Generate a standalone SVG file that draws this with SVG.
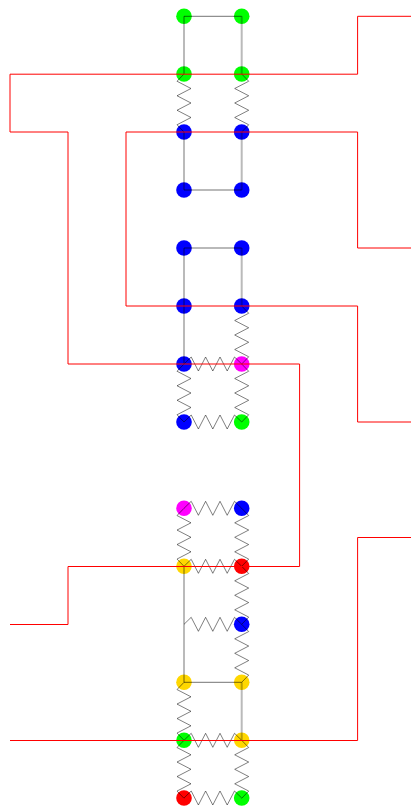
<svg xmlns="http://www.w3.org/2000/svg" xmlns:xlink="http://www.w3.org/1999/xlink" width="411" height="808" viewBox="0 0 411 808">
<style>
.g{fill:#0f0}.b{fill:#00f}.m{fill:#f0f}.r{fill:#f00}.y{fill:#ffd700}
.sp{fill:none;stroke:#000;stroke-opacity:.5;stroke-width:1}
.rv{fill:none;stroke:#000;stroke-opacity:.27;stroke-width:2}
.rh{fill:none;stroke:#000;stroke-opacity:.55;stroke-width:1}
.w{fill:none;stroke:#f00;stroke-width:1}
</style>
<defs>
<polyline id="vs" points="0,0 7,7.25 -7,14.5 7,21.75 -7,29 7,36.25 -7,43.5 7,50.75 0,58"/>
<polyline id="hs" points="0,0 7.2,-7 14.4,7 21.6,-7 28.8,7 36,-7 43.2,7 50.5,-7 57.7,0"/>
</defs>
<g id="nodes">
<g id="n1"><circle class="g" cx="184" cy="16.3" r="7.8"/></g>
<g id="n2"><circle class="g" cx="241.7" cy="16.3" r="7.8"/></g>
<g id="n3"><circle class="g" cx="184" cy="74" r="7.8"/></g>
<g id="n4"><circle class="g" cx="241.7" cy="74" r="7.8"/></g>
<g id="n5"><circle class="b" cx="184" cy="132" r="7.8"/></g>
<g id="n6"><circle class="b" cx="241.7" cy="132" r="7.8"/></g>
<g id="n7"><circle class="b" cx="184" cy="190" r="7.8"/></g>
<g id="n8"><circle class="b" cx="241.7" cy="190" r="7.8"/></g>
<g id="n9"><circle class="b" cx="184" cy="248" r="7.8"/></g>
<g id="n10"><circle class="b" cx="241.7" cy="248" r="7.8"/></g>
<g id="n11"><circle class="b" cx="184" cy="306" r="7.8"/></g>
<g id="n12"><circle class="b" cx="241.7" cy="306" r="7.8"/></g>
<g id="n13"><circle class="b" cx="184" cy="364" r="7.8"/></g>
<g id="n14"><circle class="m" cx="241.7" cy="364" r="7.8"/></g>
<g id="n15"><circle class="b" cx="184" cy="422" r="7.8"/></g>
<g id="n16"><circle class="g" cx="241.7" cy="422" r="7.8"/></g>
<g id="n17"><circle class="m" cx="184" cy="508.3" r="7.8"/></g>
<g id="n18"><circle class="b" cx="241.7" cy="508.3" r="7.8"/></g>
<g id="n19"><circle class="y" cx="184" cy="566.3" r="7.8"/></g>
<g id="n20"><circle class="r" cx="241.7" cy="566.3" r="7.8"/></g>
<g id="n21"><circle class="b" cx="241.7" cy="624.3" r="7.8"/></g>
<g id="n22"><circle class="y" cx="184" cy="682.3" r="7.8"/></g>
<g id="n23"><circle class="y" cx="241.7" cy="682.3" r="7.8"/></g>
<g id="n24"><circle class="g" cx="184" cy="740.3" r="7.8"/></g>
<g id="n25"><circle class="y" cx="241.7" cy="740.3" r="7.8"/></g>
<g id="n26"><circle class="r" cx="184" cy="798" r="7.8"/></g>
<g id="n27"><circle class="g" cx="241.7" cy="798" r="7.8"/></g>
</g>
<g id="connectors">
<path class="rv" d="M184 16.3V74M241.7 16.3V74M184 132V190M241.7 132V190M184 248V364M241.7 248V306M184 566.3V682.3M241.7 682.3V740.3"/>
<path class="rh" d="M184 16.3H241.7M184 190H241.7M184 248H241.7M184 682.3H241.7"/>
<g class="sp">
<use xlink:href="#vs" transform="translate(184,74) scale(-1,1)"/>
<use xlink:href="#vs" transform="translate(241.7,74)"/>
<use xlink:href="#vs" transform="translate(241.7,306)"/>
<use xlink:href="#vs" transform="translate(184,364) scale(-1,1)"/>
<use xlink:href="#vs" transform="translate(241.7,364)"/>
<use xlink:href="#vs" transform="translate(184,508.3) scale(-1,1)"/>
<use xlink:href="#vs" transform="translate(241.7,508.3)"/>
<use xlink:href="#vs" transform="translate(241.7,566.3)"/>
<use xlink:href="#vs" transform="translate(241.7,624.3)"/>
<use xlink:href="#vs" transform="translate(184,682.3) scale(-1,1)"/>
<use xlink:href="#vs" transform="translate(184,740.3) scale(-1,1)"/>
<use xlink:href="#vs" transform="translate(241.7,740.3)"/>
<use xlink:href="#hs" transform="translate(184,364)"/>
<use xlink:href="#hs" transform="translate(184,422)"/>
<use xlink:href="#hs" transform="translate(184,508.3)"/>
<use xlink:href="#hs" transform="translate(184,566.3)"/>
<use xlink:href="#hs" transform="translate(184,624.3)"/>
<use xlink:href="#hs" transform="translate(184,740.3)"/>
<use xlink:href="#hs" transform="translate(184,798)"/>
</g>
<polyline class="w" points="411,16.3 357.6,16.3 357.6,74.2 10,74.2 10,132 68,132 68,364 299.6,364 299.6,566.5 68,566.5 68,624.5 10,624.5"/>
<polyline class="w" points="411,248 357.6,248 357.6,132 126,132 126,306 357.6,306 357.6,422 411,422"/>
<polyline class="w" points="411,537.5 357.6,537.5 357.6,740.5 10,740.5"/>
</g>
</svg>
